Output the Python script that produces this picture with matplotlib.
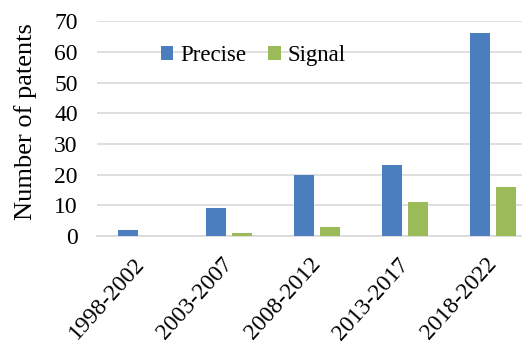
import numpy as np
import matplotlib.pyplot as plt

plt.rcParams['font.family'] = ['Liberation Serif', 'DejaVu Serif']

periods = ['1998-2002', '2003-2007', '2008-2012', '2013-2017', '2018-2022']
precise = [2, 9, 20, 23, 66]
signal = [0, 1, 3, 11, 16]

blue = '#4a7ebf'
green = '#9bbb59'

fig = plt.figure(figsize=(5.22, 3.47), dpi=100)
ax = fig.add_axes([0.186, 0.32, 0.843, 0.619])

x = np.arange(len(periods))
w = 0.225
off = 0.145
ax.bar(x - off, precise, w, color=blue, label='Precise', zorder=3)
ax.bar(x + off, signal, w, color=green, label='Signal', zorder=3)

ax.set_xlim(-0.5, len(periods) - 0.5)
ax.set_ylim(0, 70)
ax.set_yticks(range(0, 71, 10))
ax.yaxis.grid(True, color='#d9d9d9', linewidth=1.2, zorder=0)
ax.set_axisbelow(True)

for s in ['top', 'right', 'left']:
    ax.spines[s].set_visible(False)
ax.spines['bottom'].set_color('#d9d9d9')
ax.spines['bottom'].set_linewidth(1.2)
ax.tick_params(axis='both', length=0, labelsize=17)
ax.tick_params(axis='y', pad=14)
ax.tick_params(axis='x', pad=18)

ax.set_xticks(x)
ax.set_xticklabels(periods, rotation=48, ha='right', va='center',
                   rotation_mode='anchor')
ax.set_ylabel('Number of patents', fontsize=19)
ax.yaxis.set_label_coords(-0.137, 0.533)

ax.legend(loc='center', bbox_to_anchor=(0.355, 0.84), ncol=2, frameon=False,
          fontsize=16.5, handlelength=0.55, handleheight=0.55, handletextpad=0.3,
          columnspacing=0.95)

fig.savefig('out.png', dpi=100)
